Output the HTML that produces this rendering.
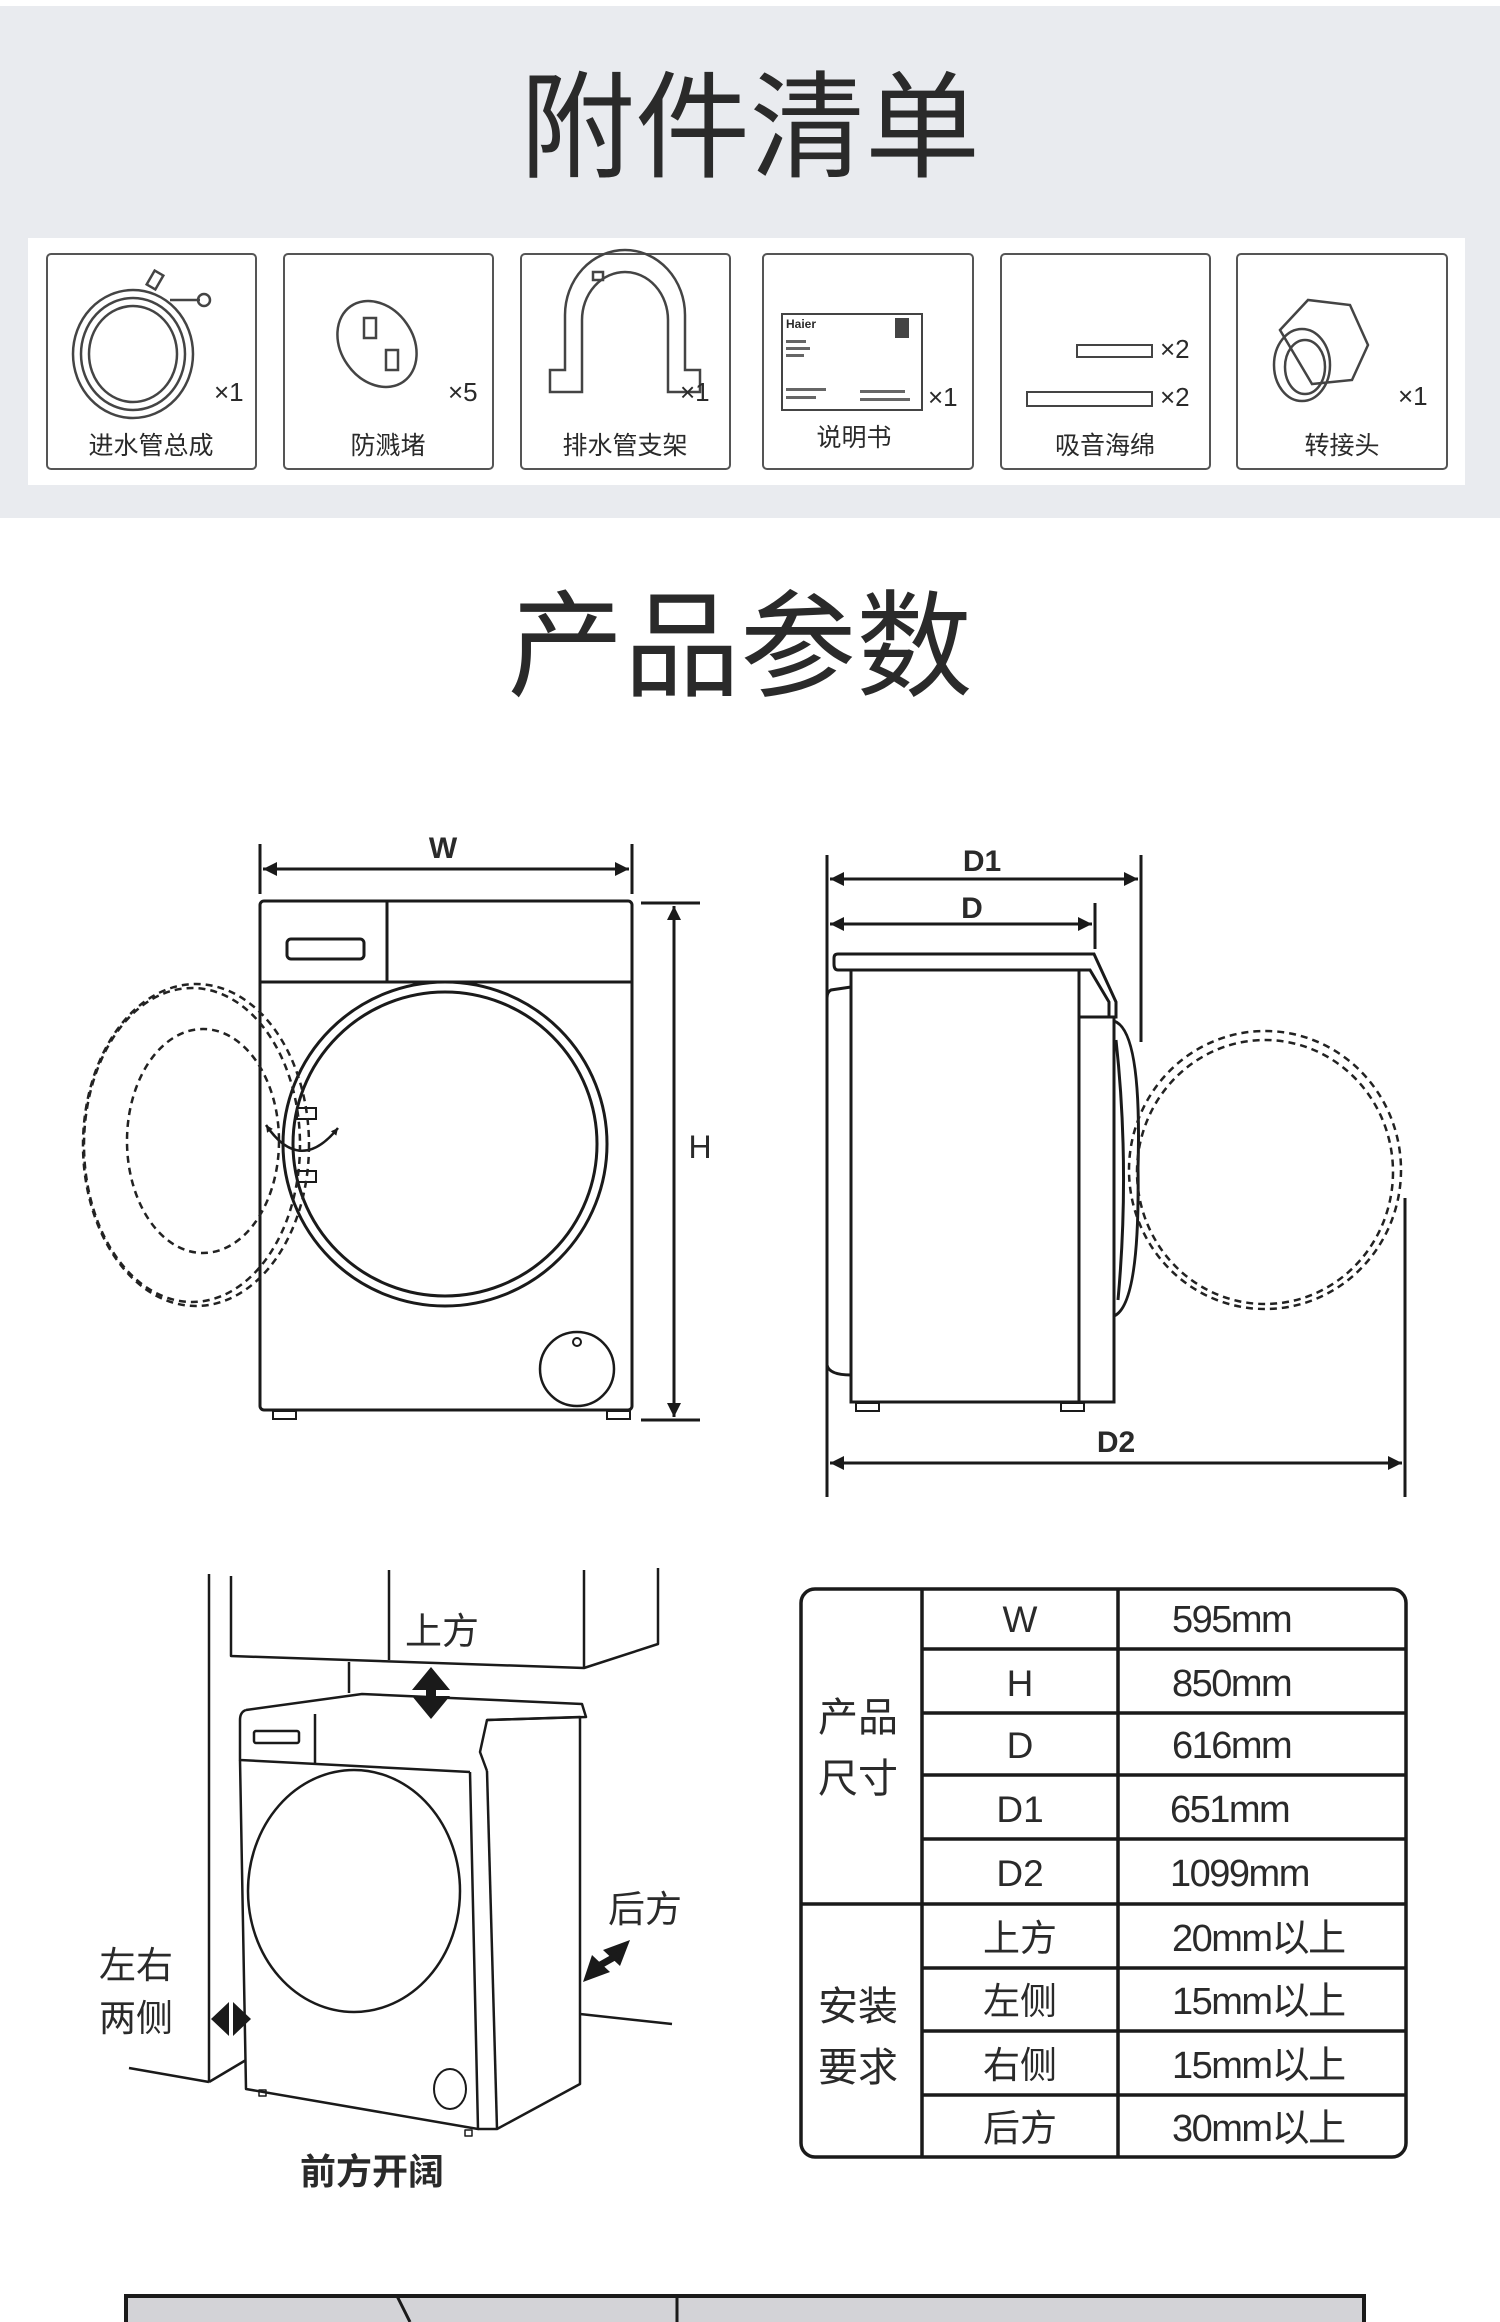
<!DOCTYPE html>
<html><head><meta charset="utf-8"><style>
html,body{margin:0;padding:0;background:#fff;}
svg{display:block;}
text{font-family:"Liberation Sans","Noto Sans CJK SC",sans-serif;fill:#2a2a2a;}
</style></head><body>
<svg width="1500" height="2322" viewBox="0 0 1500 2322" xmlns="http://www.w3.org/2000/svg">
<defs>
<marker id="ar" viewBox="0 0 10 10" refX="10" refY="5" markerWidth="9" markerHeight="7" orient="auto-start-reverse" markerUnits="userSpaceOnUse"><path d="M0,0 L10,5 L0,10 z" fill="#1a1a1a"/></marker>
<marker id="a2" viewBox="0 0 10 10" refX="10" refY="5" markerWidth="26" markerHeight="14" orient="auto-start-reverse" markerUnits="userSpaceOnUse"><path d="M0,0 L10,5 L0,10 z" fill="#1a1a1a"/></marker>
</defs>
<!-- top band -->
<rect x="0" y="6" width="1500" height="512" fill="#e9ebef"/>
<text x="750" y="128" font-size="116" text-anchor="middle" dominant-baseline="central" textLength="460" lengthAdjust="spacingAndGlyphs" fill="#222">附件清单</text>
<rect x="28" y="238" width="1437" height="247" fill="#fff"/>
<g fill="none" stroke="#555" stroke-width="2">
<rect x="47" y="254" width="209" height="215" rx="4"/>
<rect x="284" y="254" width="209" height="215" rx="4"/>
<rect x="521" y="254" width="209" height="215" rx="4"/>
<rect x="763" y="254" width="210" height="215" rx="4"/>
<rect x="1001" y="254" width="209" height="215" rx="4"/>
<rect x="1237" y="254" width="210" height="215" rx="4"/>
</g>
<!-- icons -->
<g fill="none" stroke="#444" stroke-width="2.5">
<ellipse cx="133" cy="354" rx="60" ry="64"/><ellipse cx="133" cy="354" rx="52" ry="56"/><ellipse cx="133" cy="354" rx="44" ry="48"/>
<path d="M170 300 L200 300"/><circle cx="204" cy="300" r="6"/><rect x="150" y="272" width="10" height="16" transform="rotate(30 155 280)"/>
<ellipse cx="377" cy="344" rx="36" ry="46" transform="rotate(-35 377 344)"/>
<rect x="364" y="318" width="12" height="20"/><rect x="386" y="350" width="12" height="20"/>
<path d="M565 370 L565 315 A60 65 0 0 1 685 315 L685 370 L700 370 L700 392 L668 392 L668 320 A43 48 0 0 0 582 320 L582 392 L550 392 L550 370 Z"/>
<rect x="593" y="272" width="10" height="8"/>
<rect x="782" y="314" width="140" height="96" stroke-width="2"/>
<rect x="1077" y="345" width="75" height="12" stroke-width="2"/>
<rect x="1027" y="392" width="125" height="14" stroke-width="2"/>
<polygon points="1280,330 1308,300 1350,305 1368,345 1352,380 1312,384"/>
<ellipse cx="1302" cy="365" rx="28" ry="36"/><ellipse cx="1305" cy="367" rx="20" ry="27"/>
</g>
<text x="786" y="328" font-size="12" font-weight="bold" fill="#333">Haier</text>
<rect x="895" y="318" width="14" height="20" fill="#444"/>
<g fill="#666"><rect x="786" y="340" width="20" height="3"/><rect x="786" y="347" width="24" height="3"/><rect x="786" y="354" width="18" height="3"/><rect x="786" y="388" width="40" height="3"/><rect x="786" y="396" width="30" height="3"/><rect x="860" y="390" width="45" height="3"/><rect x="860" y="398" width="50" height="3"/></g>
<g font-size="26" fill="#333">
<text x="214" y="401">×1</text><text x="448" y="401">×5</text><text x="680" y="401">×1</text><text x="928" y="406">×1</text>
<text x="1160" y="358">×2</text><text x="1160" y="406">×2</text><text x="1398" y="405">×1</text>
</g>
<g font-size="25" text-anchor="middle" fill="#333">
<text x="151" y="454">进水管总成</text><text x="388" y="454">防溅堵</text><text x="625" y="454">排水管支架</text>
<text x="854" y="446">说明书</text><text x="1105" y="454">吸音海绵</text><text x="1342" y="454">转接头</text>
</g>
<!-- product params title -->
<text x="740" y="647" font-size="116" text-anchor="middle" dominant-baseline="central" textLength="465" lengthAdjust="spacingAndGlyphs" fill="#222">产品参数</text>

<!-- front view -->
<g fill="none" stroke="#1a1a1a" stroke-width="3">
<line x1="260" y1="844" x2="260" y2="894"/><line x1="632" y1="844" x2="632" y2="894"/>
<line x1="263" y1="869" x2="629" y2="869" marker-start="url(#a2)" marker-end="url(#a2)"/>
<rect x="260" y="901" width="372" height="509" rx="4"/>
<line x1="260" y1="982" x2="632" y2="982"/><line x1="387" y1="901" x2="387" y2="982"/>
<rect x="287" y="939" width="77" height="20" rx="4"/>
<circle cx="445" cy="1144" r="162"/><circle cx="445" cy="1144" r="152"/>
<circle cx="577" cy="1369" r="37" stroke-width="2.5"/><circle cx="577" cy="1342" r="4" stroke-width="2"/>
<rect x="273" y="1411" width="23" height="8" stroke-width="2"/><rect x="607" y="1411" width="23" height="8" stroke-width="2"/>
<line x1="641" y1="903" x2="700" y2="903"/><line x1="641" y1="1420" x2="700" y2="1420"/>
<line x1="674" y1="906" x2="674" y2="1417" marker-start="url(#a2)" marker-end="url(#a2)"/>
<rect x="297" y="1108" width="19" height="11" stroke-width="2"/><rect x="297" y="1171" width="19" height="11" stroke-width="2"/>
<path d="M266 1125 Q300 1175 338 1128" stroke-width="2.5" marker-start="url(#ar)" marker-end="url(#ar)"/>
</g>
<g fill="none" stroke="#222" stroke-width="2.5" stroke-dasharray="7 5">
<ellipse cx="196" cy="1145" rx="113" ry="161"/><ellipse cx="192" cy="1145" rx="108" ry="157"/>
<ellipse cx="203" cy="1141" rx="76" ry="112"/>
</g>
<text x="443" y="858" font-size="30" font-weight="bold" text-anchor="middle">W</text>
<text x="700" y="1158" font-size="32" text-anchor="middle">H</text>

<!-- side view -->
<g fill="none" stroke="#1a1a1a" stroke-width="3">
<line x1="827" y1="855" x2="827" y2="1497"/>
<line x1="1141" y1="855" x2="1141" y2="1042"/>
<line x1="1095" y1="903" x2="1095" y2="949"/>
<line x1="1405" y1="1198" x2="1405" y2="1497"/>
<line x1="830" y1="879" x2="1138" y2="879" marker-start="url(#a2)" marker-end="url(#a2)"/>
<line x1="830" y1="924" x2="1092" y2="924" marker-start="url(#a2)" marker-end="url(#a2)"/>
<line x1="830" y1="1463" x2="1402" y2="1463" marker-start="url(#a2)" marker-end="url(#a2)"/>
<path d="M838 954 L1094 954 L1116 1002 L1116 1017 L1109 1017 L1109 1002 L1090 970 L838 970 Q834 970 834 964 L834 958 Q834 954 838 954 Z"/>
<rect x="851" y="970" width="228" height="432"/>
<path d="M1079 1017 L1114 1017 L1114 1402 L1079 1402"/>
<path d="M851 987 L831 990 Q827 992 827 998 L827 1365 Q829 1375 851 1375"/>
<path d="M1114 1021 Q1142 1030 1138 1168 Q1140 1305 1114 1316"/>
<path d="M1116 1040 Q1130 1168 1118 1300"/>
<rect x="856" y="1403" width="23" height="8" stroke-width="2"/><rect x="1061" y="1403" width="23" height="8" stroke-width="2"/>
</g>
<g fill="none" stroke="#222" stroke-width="2.5" stroke-dasharray="7 5">
<ellipse cx="1265" cy="1170" rx="136" ry="139"/><ellipse cx="1265" cy="1172" rx="128" ry="132"/>
</g>
<text x="982" y="871" font-size="30" font-weight="bold" text-anchor="middle">D1</text>
<text x="972" y="918" font-size="30" font-weight="bold" text-anchor="middle">D</text>
<text x="1116" y="1452" font-size="30" font-weight="bold" text-anchor="middle">D2</text>

<!-- installation drawing -->
<g fill="none" stroke="#1a1a1a" stroke-width="2.5" stroke-linejoin="round">
<line x1="209" y1="1574" x2="209" y2="2082"/>
<line x1="129" y1="2068" x2="209" y2="2082"/><line x1="209" y1="2082" x2="246" y2="2060"/>
<path d="M231 1576 L231 1656 L584 1668 L658 1644 L658 1568"/>
<line x1="584" y1="1570" x2="584" y2="1668"/><line x1="389" y1="1570" x2="389" y2="1660"/>
<line x1="349" y1="1662" x2="349" y2="1693"/>
<path d="M246 1710 L362 1694 L582 1704 L586 1717 L487 1720 L480 1752 L487 1771"/>
<path d="M246 1710 Q240 1712 240 1720 L240 1760 L470 1772"/>
<path d="M240 1760 L246 2089 L478 2129 L470 1772"/>
<line x1="487" y1="1771" x2="497" y2="2129"/>
<path d="M487 1720 L580 1717 L580 2084 L497 2129 L478 2129"/>
<line x1="580" y1="2014" x2="672" y2="2024"/>
<line x1="315" y1="1714" x2="315" y2="1763"/>
<rect x="254" y="1731" width="45" height="12" rx="2"/>
<ellipse cx="354" cy="1891" rx="106" ry="121"/>
<ellipse cx="450" cy="2089" rx="16" ry="20" stroke-width="2"/>
<rect x="259" y="2090" width="7" height="6" stroke-width="1.5"/><rect x="465" y="2130" width="7" height="6" stroke-width="1.5"/>
</g>
<g fill="#1a1a1a">
<!-- up/down arrow -->
<polygon points="412,1690 431,1667 450,1690"/><rect x="426" y="1688" width="10" height="10"/><polygon points="412,1696 431,1719 450,1696"/>
<!-- left-right arrow -->
<polygon points="211,2019 229,2002 229,2036"/><polygon points="247,2019 229,2002 229,2036" transform="translate(4 0)"/>
<!-- back diagonal arrow -->
<polygon points="583,1982 592,1955 610,1972"/><polygon points="630,1940 603,1950 620,1966"/>
<line x1="595" y1="1968" x2="618" y2="1955" stroke="#1a1a1a" stroke-width="7"/>
</g>
<g font-size="37" fill="#222">
<text x="405" y="1644">上方</text>
<text x="608" y="1922">后方</text>
<text x="99" y="1978">左右</text>
<text x="99" y="2031">两侧</text>
</g>
<text x="372" y="2184" font-size="36" font-weight="bold" text-anchor="middle" fill="#222">前方开阔</text>

<!-- table -->
<g fill="none" stroke="#1a1a1a" stroke-width="3.5">
<rect x="801" y="1589" width="605" height="568" rx="14"/>
<line x1="922" y1="1589" x2="922" y2="2157"/><line x1="1118" y1="1589" x2="1118" y2="2157"/>
<line x1="922" y1="1649" x2="1406" y2="1649"/><line x1="922" y1="1713" x2="1406" y2="1713"/>
<line x1="922" y1="1775" x2="1406" y2="1775"/><line x1="922" y1="1839" x2="1406" y2="1839"/>
<line x1="801" y1="1904" x2="1406" y2="1904"/>
<line x1="922" y1="1968" x2="1406" y2="1968"/><line x1="922" y1="2031" x2="1406" y2="2031"/>
<line x1="922" y1="2095" x2="1406" y2="2095"/>
</g>
<g font-size="40" fill="#222">
<text x="818" y="1731">产品</text><text x="818" y="1792">尺寸</text>
<text x="818" y="2020">安装</text><text x="818" y="2081">要求</text>
</g>
<g font-size="37" text-anchor="middle" fill="#222">
<text x="1020" y="1632">W</text><text x="1020" y="1696">H</text><text x="1020" y="1758">D</text>
<text x="1020" y="1822">D1</text><text x="1020" y="1886">D2</text>
<text x="1020" y="1951">上方</text><text x="1020" y="2014">左侧</text><text x="1020" y="2078">右侧</text><text x="1020" y="2141">后方</text>
</g>
<g font-size="38" fill="#222" letter-spacing="-1.5">
<text x="1172" y="1632">595mm</text><text x="1172" y="1696">850mm</text><text x="1172" y="1758">616mm</text>
<text x="1170" y="1822">651mm</text><text x="1170" y="1886">1099mm</text>
<text x="1172" y="1951">20mm以上</text><text x="1172" y="2014">15mm以上</text><text x="1172" y="2078">15mm以上</text><text x="1172" y="2141">30mm以上</text>
</g>

<!-- bottom partial table -->
<rect x="126" y="2296" width="1238" height="30" fill="#d3d3d7"/>
<g stroke="#1a1a1a" stroke-width="4" fill="none">
<line x1="124" y1="2296" x2="1366" y2="2296"/>
<line x1="126" y1="2296" x2="126" y2="2322"/><line x1="1364" y1="2296" x2="1364" y2="2322"/>
<line x1="677" y1="2296" x2="677" y2="2322" stroke-width="3"/>
<line x1="397" y1="2296" x2="410" y2="2322" stroke-width="3"/>
</g>
</svg>
</body></html>
